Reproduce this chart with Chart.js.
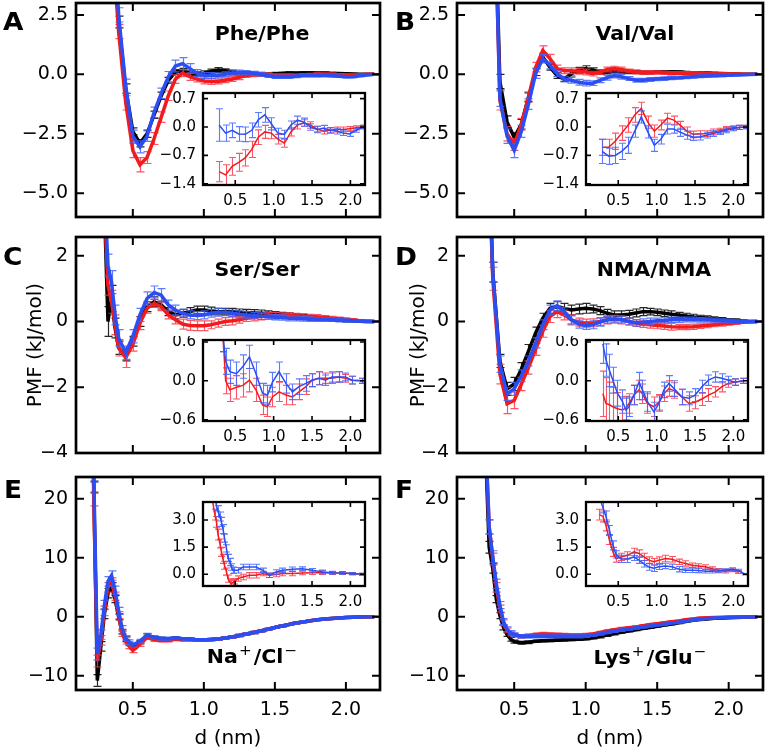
<!DOCTYPE html>
<html>
<head>
<meta charset="utf-8">
<script src="https://cdn.jsdelivr.net/npm/chart.js"></script>
<style>
  body { margin: 0; background: #fff; }
  #fig { position: relative; width: 766px; height: 751px; overflow: hidden; background: #fff; font-family: "DejaVu Sans", sans-serif; }
  #fig canvas { position: absolute; }
  .lab { position: absolute; font-weight: bold; white-space: nowrap; line-height: 1; color: #000; }
  .letter { font-size: 24px; transform: scaleX(1.1); transform-origin: left top; }
  .ttl { font-size: 19px; transform: translateX(-50%) scaleX(1.08); }
  .sp { font-weight: normal; font-size: 14px; position: relative; top: -8px; margin: 0 2px 0 1px; }
</style>
</head>
<body>
<div id="fig"></div>
<script>
// ---- shared axes ----
const mainXRange = [0.1, 2.24];
const insetXRange = [0.08, 2.19];
const xTicks = [0.5, 1.0, 1.5, 2.0];

// ---- A: Phe/Phe ----
const xStd = [0.35,0.40,0.45,0.50,0.55,0.60,0.65,0.70,0.75,0.80,0.85,0.90,0.95,1.00,1.05,1.10,1.15,1.20,1.25,1.30,1.35,1.40,1.45,1.50,1.55,1.60,1.65,1.70,1.75,1.80,1.85,1.90,1.95,2.00,2.05,2.10,2.15,2.20];
const blackA = [6.5,2.2,-0.6,-2.4,-2.9,-2.5,-1.7,-0.9,-0.25,0.1,0.15,0.05,0.0,0.05,0.12,0.18,0.15,0.1,0.05,0.03,0.02,0.0,0.0,0.02,0.03,0.05,0.05,0.06,0.06,0.05,0.05,0.04,0.03,0.02,0.01,0.0,0.0,0.0];
const redA = [6.0,1.8,-1.2,-3.2,-3.8,-3.5,-2.7,-1.8,-0.9,-0.2,0.05,-0.1,-0.2,-0.28,-0.3,-0.3,-0.25,-0.2,-0.12,-0.05,-0.02,0.0,-0.02,-0.05,-0.05,-0.05,-0.05,-0.03,-0.02,0.0,0.0,0.0,-0.02,-0.03,-0.03,-0.02,0.0,0.0];
const blueA = [7.0,2.5,-0.5,-2.6,-3.05,-2.6,-1.6,-0.8,-0.1,0.35,0.45,0.25,0.05,-0.05,-0.05,-0.05,0.0,0.05,0.08,0.08,0.05,0.0,-0.05,-0.1,-0.1,-0.1,-0.08,-0.05,-0.05,-0.05,-0.05,-0.06,-0.08,-0.1,-0.1,-0.06,-0.03,0.0];
const blackErrA = [0.3,0.25,0.2,0.15,0.15,0.15,0.15,0.15,0.12,0.1,0.1,0.1,0.1,0.1,0.1,0.1,0.08,0.08,0.08,0.07,0.07,0.07,0.06,0.06,0.06,0.06,0.05,0.05,0.05,0.05,0.05,0.04,0.04,0.04,0.03,0.03,0.02,0.02];
const redErrA = [0.35,0.3,0.3,0.3,0.3,0.25,0.25,0.22,0.2,0.18,0.15,0.15,0.12,0.12,0.12,0.1,0.1,0.1,0.1,0.08,0.08,0.08,0.08,0.07,0.07,0.07,0.06,0.06,0.06,0.06,0.05,0.05,0.05,0.05,0.04,0.04,0.03,0.03];
const blueErrA = [0.35,0.3,0.3,0.25,0.25,0.22,0.22,0.22,0.22,0.25,0.25,0.2,0.15,0.12,0.12,0.1,0.1,0.1,0.1,0.08,0.08,0.08,0.08,0.07,0.07,0.07,0.06,0.06,0.06,0.06,0.05,0.05,0.05,0.05,0.04,0.04,0.03,0.03];
const yTicksAB = [-5, -2.5, 0, 2.5];

const xInA = [0.29,0.375,0.46,0.545,0.63,0.715,0.80,0.885,0.97,1.055,1.14,1.225,1.31,1.395,1.48,1.565,1.65,1.735,1.82,1.905,1.99,2.075,2.16];
const inBlueA = [0.05,-0.15,-0.08,-0.17,-0.18,-0.08,0.18,0.3,0.08,-0.15,-0.18,0.05,0.17,0.12,0.0,-0.06,-0.03,-0.08,-0.1,-0.15,-0.17,-0.08,0.0];
const inRedA = [-1.1,-1.18,-0.97,-0.87,-0.76,-0.55,-0.25,-0.12,-0.15,-0.3,-0.4,-0.12,0.05,0.1,0.05,-0.05,-0.1,-0.08,-0.06,-0.06,-0.04,-0.02,0.0];
const inBlueErrA = [0.4,0.2,0.18,0.18,0.18,0.18,0.18,0.18,0.15,0.12,0.1,0.1,0.1,0.1,0.08,0.08,0.07,0.07,0.07,0.06,0.06,0.05,0.04];
const inRedErrA = [0.25,0.25,0.22,0.22,0.2,0.2,0.18,0.16,0.14,0.12,0.1,0.1,0.1,0.08,0.08,0.07,0.07,0.06,0.06,0.06,0.05,0.05,0.04];
const inYTicksAB = [-1.4, -0.7, 0, 0.7];

// ---- B: Val/Val ----
const blackB = [10,-0.3,-2.0,-2.65,-2.1,-0.96,0.1,0.73,0.3,-0.05,-0.2,0.03,0.17,0.24,0.17,0.1,0.1,0.14,0.13,0.1,0.1,0.08,0.08,0.1,0.1,0.1,0.1,0.08,0.07,0.06,0.05,0.04,0.03,0.02,0.01,0.0,0.0,0.0];
const redB = [10,-1.1,-2.5,-2.95,-2.1,-0.96,0.3,1.0,0.66,0.24,0.15,0.15,0.13,0.1,0.03,0.1,0.2,0.24,0.2,0.14,0.1,0.08,0.08,0.08,0.07,0.05,0.05,0.05,0.05,0.04,0.03,0.03,0.02,0.01,0.01,0.0,0.0,0.0];
const blueB = [10,-1.0,-2.6,-3.2,-2.4,-1.25,0.03,0.66,0.38,0.03,-0.2,-0.25,-0.33,-0.37,-0.37,-0.25,-0.14,-0.05,-0.1,-0.18,-0.25,-0.25,-0.22,-0.2,-0.18,-0.15,-0.14,-0.12,-0.1,-0.08,-0.07,-0.06,-0.05,-0.04,-0.03,-0.02,-0.01,0.0];
const blackErrB = [0.3,0.3,0.25,0.2,0.2,0.18,0.15,0.15,0.12,0.12,0.1,0.1,0.12,0.12,0.1,0.1,0.08,0.08,0.08,0.07,0.07,0.07,0.06,0.06,0.06,0.06,0.05,0.05,0.05,0.05,0.05,0.04,0.04,0.04,0.03,0.03,0.02,0.02];
const redErrB = [0.35,0.4,0.3,0.25,0.25,0.22,0.2,0.2,0.18,0.15,0.12,0.12,0.12,0.12,0.1,0.1,0.1,0.1,0.1,0.08,0.08,0.08,0.08,0.07,0.07,0.07,0.06,0.06,0.06,0.06,0.05,0.05,0.05,0.05,0.04,0.04,0.03,0.03];
const blueErrB = [0.35,0.35,0.3,0.3,0.25,0.22,0.2,0.18,0.15,0.12,0.12,0.12,0.12,0.12,0.1,0.1,0.1,0.1,0.1,0.08,0.08,0.08,0.08,0.07,0.07,0.07,0.06,0.06,0.06,0.06,0.05,0.05,0.05,0.05,0.04,0.04,0.03,0.03];

const inBlueB = [-0.6,-0.72,-0.7,-0.6,-0.45,-0.1,0.25,-0.12,-0.45,-0.3,-0.05,-0.05,-0.13,-0.2,-0.25,-0.24,-0.2,-0.16,-0.12,-0.08,-0.04,-0.01,0.0];
const inRedB = [-0.5,-0.5,-0.35,-0.15,0.05,0.3,0.46,0.12,-0.1,0.05,0.22,0.17,0.04,-0.1,-0.18,-0.17,-0.16,-0.12,-0.09,-0.05,-0.02,-0.01,0.0];
const inBlueErrB = [0.3,0.2,0.2,0.2,0.2,0.15,0.15,0.15,0.15,0.12,0.12,0.1,0.1,0.1,0.08,0.08,0.07,0.07,0.06,0.06,0.05,0.05,0.04];
const inRedErrB = [0.2,0.2,0.2,0.18,0.18,0.18,0.15,0.15,0.15,0.12,0.12,0.1,0.1,0.1,0.08,0.08,0.07,0.07,0.06,0.06,0.05,0.05,0.04];

// ---- C: Ser/Ser ----
const xC = [0.30,0.325,0.35,0.375,0.40,0.45,0.50,0.55,0.60,0.65,0.70,0.75,0.80,0.85,0.90,0.95,1.00,1.05,1.10,1.15,1.20,1.25,1.30,1.35,1.40,1.45,1.50,1.55,1.60,1.65,1.70,1.75,1.80,1.85,1.90,1.95,2.00,2.05,2.10,2.15,2.20];
const blackC = [3.5,0.0,0.7,-0.2,-0.8,-1.05,-0.6,0.0,0.45,0.6,0.5,0.3,0.2,0.25,0.3,0.35,0.35,0.32,0.3,0.3,0.3,0.28,0.27,0.26,0.25,0.24,0.22,0.2,0.18,0.16,0.14,0.12,0.1,0.09,0.07,0.06,0.04,0.03,0.01,0.0,0.0];
const redC = [3.5,1.1,0.6,-0.1,-0.8,-1.1,-0.7,-0.05,0.4,0.55,0.45,0.2,0.05,-0.08,-0.12,-0.13,-0.13,-0.1,-0.05,0.0,0.02,0.05,0.1,0.12,0.15,0.17,0.18,0.18,0.18,0.17,0.16,0.15,0.14,0.12,0.1,0.08,0.06,0.04,0.02,0.01,0.0];
const blueC = [4.0,1.7,1.2,0.2,-0.5,-0.95,-0.45,0.2,0.7,0.88,0.8,0.5,0.35,0.25,0.2,0.18,0.2,0.25,0.28,0.28,0.25,0.22,0.2,0.18,0.16,0.15,0.13,0.12,0.1,0.09,0.08,0.07,0.06,0.06,0.05,0.04,0.03,0.02,0.01,0.0,0.0];
const blackErrC = [0.5,0.45,0.4,0.3,0.2,0.15,0.15,0.15,0.15,0.15,0.12,0.12,0.12,0.12,0.12,0.12,0.12,0.12,0.1,0.1,0.1,0.1,0.1,0.1,0.1,0.08,0.08,0.08,0.08,0.07,0.07,0.07,0.06,0.06,0.05,0.05,0.05,0.04,0.03,0.02,0.02];
const redErrC = [0.4,0.3,0.35,0.3,0.25,0.3,0.2,0.2,0.15,0.12,0.12,0.12,0.12,0.15,0.15,0.15,0.15,0.12,0.12,0.12,0.12,0.1,0.1,0.1,0.1,0.1,0.1,0.08,0.08,0.08,0.08,0.07,0.07,0.06,0.06,0.05,0.05,0.04,0.03,0.03,0.02];
const blueErrC = [0.4,0.35,0.35,0.3,0.25,0.2,0.2,0.2,0.2,0.2,0.2,0.15,0.15,0.12,0.12,0.12,0.12,0.12,0.12,0.1,0.1,0.1,0.1,0.1,0.1,0.08,0.08,0.08,0.08,0.07,0.07,0.07,0.06,0.06,0.05,0.05,0.05,0.04,0.03,0.03,0.02];
const yTicksCD = [-4, -2, 0, 2];

const xInC = [0.34,0.375,0.43,0.515,0.60,0.685,0.77,0.855,0.92,0.985,1.07,1.16,1.245,1.33,1.42,1.50,1.59,1.675,1.76,1.85,1.935,2.02,2.15];
const inBlueC = [0.7,0.3,0.14,0.11,0.22,0.37,0.11,-0.19,-0.22,-0.02,0.14,-0.04,-0.17,-0.09,-0.04,0.01,0.04,0.01,0.06,0.06,0.06,0.01,0.0];
const inRedC = [0.7,0.0,-0.14,-0.1,-0.07,0.01,-0.14,-0.37,-0.4,-0.25,-0.17,-0.22,-0.25,-0.17,-0.09,0.01,0.04,0.04,0.04,0.06,0.04,0.01,0.0];
const inBlueErrC = [0.25,0.2,0.18,0.18,0.18,0.18,0.18,0.15,0.15,0.15,0.15,0.15,0.12,0.12,0.12,0.1,0.1,0.08,0.08,0.08,0.06,0.06,0.04];
const inRedErrC = [0.25,0.2,0.18,0.18,0.18,0.18,0.18,0.15,0.15,0.15,0.15,0.15,0.12,0.12,0.12,0.1,0.1,0.08,0.08,0.08,0.06,0.06,0.04];
const inYTicksCD = [-0.6, 0, 0.6];

// ---- D: NMA/NMA ----
const xD = [0.30,0.35,0.40,0.45,0.50,0.55,0.60,0.65,0.70,0.75,0.80,0.85,0.90,0.95,1.00,1.05,1.10,1.15,1.20,1.25,1.30,1.35,1.40,1.45,1.50,1.55,1.60,1.65,1.70,1.75,1.80,1.85,1.90,1.95,2.00,2.05,2.10,2.15,2.20];
const blackD = [8,1.5,-1.2,-2.05,-1.9,-1.45,-0.9,-0.35,0.1,0.4,0.45,0.4,0.35,0.38,0.4,0.38,0.33,0.25,0.2,0.2,0.22,0.26,0.3,0.3,0.28,0.25,0.22,0.2,0.17,0.14,0.12,0.1,0.08,0.06,0.04,0.03,0.01,0.0,0.0];
const redD = [8,1.3,-1.6,-2.5,-2.4,-1.9,-1.4,-0.85,-0.3,0.15,0.3,0.2,0.05,-0.02,-0.05,-0.04,0.0,0.05,0.07,0.05,0.0,-0.05,-0.08,-0.1,-0.12,-0.14,-0.16,-0.17,-0.17,-0.16,-0.14,-0.12,-0.1,-0.08,-0.06,-0.04,-0.02,-0.01,0.0];
const blueD = [8,1.5,-1.3,-2.2,-2.05,-1.65,-1.2,-0.65,-0.1,0.35,0.48,0.3,0.05,-0.08,-0.12,-0.1,-0.02,0.05,0.08,0.06,0.0,-0.04,-0.02,0.0,0.02,0.03,0.05,0.05,0.06,0.06,0.05,0.05,0.04,0.03,0.02,0.01,0.01,0.0,0.0];
const blackErrD = [0.3,0.3,0.2,0.2,0.2,0.2,0.2,0.18,0.15,0.15,0.15,0.15,0.15,0.15,0.15,0.12,0.12,0.12,0.12,0.12,0.12,0.12,0.12,0.1,0.1,0.1,0.1,0.08,0.08,0.08,0.07,0.07,0.06,0.06,0.05,0.05,0.04,0.03,0.02];
const redErrD = [0.4,0.35,0.3,0.3,0.25,0.2,0.2,0.18,0.18,0.18,0.18,0.15,0.15,0.12,0.12,0.12,0.12,0.12,0.12,0.12,0.1,0.1,0.1,0.1,0.1,0.1,0.1,0.08,0.08,0.08,0.07,0.07,0.06,0.06,0.05,0.05,0.04,0.03,0.02];
const blueErrD = [0.4,0.3,0.25,0.2,0.2,0.18,0.15,0.15,0.15,0.15,0.15,0.12,0.12,0.12,0.12,0.12,0.12,0.1,0.1,0.1,0.1,0.1,0.1,0.1,0.08,0.08,0.08,0.08,0.07,0.07,0.07,0.06,0.06,0.05,0.05,0.04,0.03,0.03,0.02];

const xInD = [0.30,0.34,0.385,0.43,0.49,0.555,0.60,0.64,0.705,0.77,0.815,0.88,0.965,1.03,1.095,1.16,1.225,1.33,1.42,1.50,1.59,1.675,1.765,1.85,1.935,2.02,2.13];
const inBlueD = [0.57,0.32,0.16,0.01,-0.19,-0.32,-0.45,-0.4,-0.22,-0.02,-0.14,-0.32,-0.48,-0.35,-0.14,-0.04,-0.12,-0.25,-0.27,-0.22,-0.09,0.01,0.06,0.04,0.01,-0.02,0.0];
const inRedD = [-0.2,-0.35,-0.37,-0.4,-0.43,-0.45,-0.42,-0.35,-0.22,-0.14,-0.2,-0.35,-0.4,-0.33,-0.2,-0.12,-0.15,-0.25,-0.35,-0.33,-0.28,-0.22,-0.17,-0.09,-0.04,-0.02,0.0];
const inBlueErrD = [0.3,0.25,0.25,0.2,0.2,0.18,0.18,0.15,0.15,0.15,0.15,0.15,0.15,0.12,0.12,0.12,0.12,0.12,0.1,0.1,0.1,0.08,0.08,0.07,0.06,0.05,0.04];
const inRedErrD = [0.35,0.4,0.35,0.3,0.25,0.2,0.18,0.15,0.15,0.15,0.15,0.15,0.15,0.12,0.12,0.12,0.12,0.12,0.12,0.1,0.1,0.1,0.08,0.08,0.06,0.05,0.04];

// ---- E: Na+/Cl- ----
const xE = [0.20,0.225,0.25,0.275,0.30,0.325,0.35,0.375,0.40,0.425,0.45,0.475,0.50,0.55,0.60,0.65,0.70,0.75,0.80,0.85,0.90,0.95,1.00,1.05,1.10,1.15,1.20,1.25,1.30,1.35,1.40,1.45,1.50,1.55,1.60,1.65,1.70,1.75,1.80,1.85,1.90,1.95,2.00,2.05,2.10,2.15,2.20];
const blackE = [60,22,-10.8,-5.0,0.5,4.0,5.1,3.0,0.0,-2.5,-3.8,-4.6,-5.1,-4.3,-3.2,-3.5,-3.7,-3.8,-3.6,-3.7,-3.8,-3.9,-3.9,-3.85,-3.75,-3.6,-3.4,-3.15,-2.9,-2.65,-2.4,-2.1,-1.8,-1.55,-1.3,-1.05,-0.85,-0.65,-0.5,-0.38,-0.27,-0.18,-0.1,-0.05,-0.02,0.0,0.0];
const redE = [60,20,-7.5,-4.0,1.0,5.0,5.9,3.5,0.3,-2.8,-4.2,-5.0,-5.7,-4.7,-3.5,-3.9,-4.0,-4.0,-3.8,-3.9,-3.9,-3.9,-3.9,-3.85,-3.75,-3.6,-3.4,-3.15,-2.9,-2.65,-2.4,-2.1,-1.8,-1.55,-1.3,-1.05,-0.85,-0.65,-0.5,-0.38,-0.27,-0.18,-0.1,-0.05,-0.02,0.0,0.0];
const blueE = [60,24,-6.3,-3.0,2.0,6.0,7.0,4.5,1.0,-2.0,-3.6,-4.3,-4.8,-4.1,-3.1,-3.5,-3.7,-3.7,-3.6,-3.7,-3.8,-3.9,-3.9,-3.85,-3.75,-3.6,-3.4,-3.15,-2.9,-2.65,-2.4,-2.1,-1.8,-1.55,-1.3,-1.05,-0.85,-0.65,-0.5,-0.38,-0.27,-0.18,-0.1,-0.05,-0.02,0.0,0.0];
const blackErrE = [0,1.0,1.0,0.8,0.8,0.8,0.7,0.6,0.5,0.4,0.4,0.3,0.3,0.3,0.3,0.25,0.25,0.25,0.2,0.2,0.2,0.2,0.2,0.2,0.2,0.2,0.2,0.2,0.2,0.2,0.15,0.15,0.15,0.15,0.15,0.15,0.15,0.1,0.1,0.1,0.1,0.1,0.1,0.1,0.1,0.1,0.1];
const redErrE = [0,1.2,1.0,0.8,0.8,0.8,0.7,0.7,0.6,0.5,0.4,0.4,0.35,0.3,0.3,0.25,0.25,0.25,0.2,0.2,0.2,0.2,0.2,0.2,0.2,0.2,0.2,0.2,0.2,0.2,0.15,0.15,0.15,0.15,0.15,0.15,0.15,0.1,0.1,0.1,0.1,0.1,0.1,0.1,0.1,0.1,0.1];
const blueErrE = [0,1.2,1.0,0.8,0.8,0.8,0.8,0.7,0.6,0.5,0.4,0.4,0.35,0.3,0.3,0.25,0.25,0.25,0.2,0.2,0.2,0.2,0.2,0.2,0.2,0.2,0.2,0.2,0.2,0.2,0.15,0.15,0.15,0.15,0.15,0.15,0.15,0.1,0.1,0.1,0.1,0.1,0.1,0.1,0.1,0.1,0.1];
const yTicksEF = [-10, 0, 10, 20];

const xInE = [0.19,0.235,0.255,0.275,0.30,0.32,0.34,0.36,0.385,0.405,0.43,0.45,0.47,0.49,0.535,0.60,0.685,0.77,0.86,0.945,1.03,1.115,1.245,1.375,1.505,1.635,1.765,1.89,2.02,2.15];
const inRedE = [4.4,3.3,2.9,2.2,1.7,1.24,0.85,0.5,0.15,-0.24,-0.45,-0.52,-0.45,-0.39,-0.24,-0.15,-0.06,-0.06,0.04,-0.06,-0.02,0.04,0.04,0.07,0.09,0.09,0.07,0.07,0.04,0.0];
const inBlueE = [6.0,4.5,3.8,3.5,3.2,2.9,2.5,2.0,1.43,0.9,0.68,0.4,0.22,0.22,0.22,0.4,0.4,0.4,0.22,-0.06,0.13,0.22,0.28,0.31,0.22,0.13,0.09,0.07,0.04,0.0];
const inBlueErrE = [0.3,0.3,0.3,0.3,0.25,0.25,0.25,0.22,0.2,0.2,0.2,0.18,0.18,0.15,0.15,0.15,0.15,0.15,0.12,0.12,0.12,0.12,0.12,0.1,0.1,0.1,0.08,0.08,0.06,0.05];
const inRedErrE = [0.3,0.3,0.3,0.3,0.25,0.25,0.25,0.22,0.2,0.2,0.2,0.18,0.18,0.15,0.15,0.15,0.15,0.15,0.12,0.12,0.12,0.12,0.12,0.1,0.1,0.1,0.08,0.08,0.06,0.05];
const inYTicksEF = [0, 1.5, 3.0];

// ---- F: Lys+/Glu- ----
const xF = [0.30,0.325,0.35,0.375,0.40,0.425,0.45,0.475,0.50,0.55,0.60,0.65,0.70,0.75,0.80,0.85,0.90,0.95,1.00,1.05,1.10,1.15,1.20,1.25,1.30,1.35,1.40,1.45,1.50,1.55,1.60,1.65,1.70,1.75,1.80,1.85,1.90,1.95,2.00,2.05,2.10,2.15,2.20];
const blackF = [28,11.8,8.2,3.0,0.2,-1.8,-3.0,-3.8,-4.2,-4.4,-4.3,-4.15,-4.05,-4.0,-3.95,-3.9,-3.85,-3.8,-3.7,-3.55,-3.35,-3.1,-2.85,-2.6,-2.4,-2.2,-2.0,-1.8,-1.6,-1.4,-1.2,-1.0,-0.8,-0.6,-0.45,-0.35,-0.25,-0.2,-0.15,-0.1,-0.05,-0.02,0.0];
const redF = [30,15.3,9.8,5.0,1.4,-1.0,-2.3,-2.9,-3.1,-3.3,-3.2,-3.0,-2.9,-2.95,-3.0,-3.05,-3.1,-3.1,-3.05,-2.9,-2.65,-2.4,-2.2,-2.0,-1.85,-1.7,-1.5,-1.3,-1.15,-1.0,-0.85,-0.7,-0.5,-0.35,-0.2,-0.15,-0.1,-0.05,-0.03,-0.02,-0.01,0.0,0.0];
const blueF = [30,15.2,10.2,5.6,2.0,-0.8,-2.1,-2.7,-3.0,-3.3,-3.3,-3.3,-3.3,-3.3,-3.3,-3.3,-3.3,-3.3,-3.25,-3.1,-2.9,-2.65,-2.45,-2.25,-2.05,-1.9,-1.7,-1.55,-1.4,-1.25,-1.05,-0.9,-0.7,-0.55,-0.4,-0.3,-0.2,-0.15,-0.1,-0.07,-0.04,-0.02,0.0];
const blackErrF = [0,1.0,0.8,0.6,0.5,0.4,0.3,0.3,0.25,0.25,0.25,0.2,0.2,0.2,0.2,0.2,0.2,0.2,0.2,0.2,0.2,0.2,0.2,0.15,0.15,0.15,0.15,0.15,0.15,0.15,0.15,0.15,0.1,0.1,0.1,0.1,0.1,0.1,0.1,0.1,0.1,0.1,0.1];
const redErrF = [0,1.2,1.0,0.8,0.6,0.5,0.4,0.35,0.3,0.3,0.3,0.25,0.25,0.25,0.25,0.25,0.25,0.25,0.25,0.2,0.2,0.2,0.2,0.2,0.2,0.2,0.2,0.15,0.15,0.15,0.15,0.15,0.15,0.15,0.1,0.1,0.1,0.1,0.1,0.1,0.1,0.1,0.1];
const blueErrF = [0,1.2,1.0,0.8,0.6,0.5,0.4,0.35,0.3,0.3,0.3,0.25,0.25,0.25,0.25,0.25,0.25,0.25,0.25,0.2,0.2,0.2,0.2,0.2,0.2,0.2,0.2,0.15,0.15,0.15,0.15,0.15,0.15,0.15,0.1,0.1,0.1,0.1,0.1,0.1,0.1,0.1,0.1];

const xInF = [0.255,0.30,0.34,0.385,0.43,0.47,0.535,0.62,0.705,0.77,0.835,0.90,0.965,1.03,1.115,1.20,1.29,1.375,1.46,1.545,1.635,1.72,1.805,1.89,1.98,2.06,2.15];
const inRedF = [3.3,3.2,2.7,1.9,1.24,0.87,0.96,1.05,1.24,1.15,0.96,0.78,0.69,0.78,0.87,0.83,0.69,0.6,0.5,0.46,0.41,0.31,0.22,0.17,0.22,0.13,null];
const inBlueF = [4.3,3.7,3.2,2.45,1.6,1.1,0.85,0.85,0.96,0.78,0.58,0.4,0.33,0.41,0.46,0.41,0.28,0.22,0.22,0.21,0.17,0.17,0.18,0.22,0.28,0.22,0.0];
const inRedErrF = [0.3,0.3,0.3,0.25,0.25,0.2,0.2,0.2,0.2,0.2,0.2,0.18,0.18,0.18,0.18,0.15,0.15,0.15,0.12,0.12,0.12,0.1,0.1,0.1,0.08,0.08,0];
const inBlueErrF = [0.3,0.3,0.3,0.25,0.25,0.2,0.2,0.2,0.2,0.18,0.18,0.18,0.18,0.15,0.15,0.15,0.15,0.12,0.12,0.12,0.1,0.1,0.1,0.08,0.08,0.06,0.04];

// ---- colours ----
const BLACK = '#000000', RED = '#f21b1b', BLUE = '#2b4df2';
const BLACK_ERR = 'rgba(0,0,0,0.85)', RED_ERR = 'rgba(250,55,75,0.85)', BLUE_ERR = 'rgba(65,100,255,0.85)';

// vertical error bars with caps, drawn through the chart scales
const errorBars = {
  id: 'errorBars',
  beforeDatasetDraw(chart, args) {
    const ds = chart.data.datasets[args.index];
    if (!ds.err) return;
    const { ctx, chartArea: a, scales: { x, y } } = chart;
    ctx.save();
    ctx.beginPath();
    ctx.rect(a.left, a.top, a.width, a.height);
    ctx.clip();
    ctx.strokeStyle = ds.errColor;
    ctx.lineWidth = ds.errWidth;
    ctx.beginPath();
    ds.data.forEach((p, i) => {
      const e = ds.err[i];
      if (p.y == null || !e) return;
      const px = Math.round(x.getPixelForValue(p.x)) + 0.5;
      const y1 = y.getPixelForValue(p.y - e), y2 = y.getPixelForValue(p.y + e);
      ctx.moveTo(px, y1); ctx.lineTo(px, y2);
      ctx.moveTo(px - ds.cap, y1); ctx.lineTo(px + ds.cap, y1);
      ctx.moveTo(px - ds.cap, y2); ctx.lineTo(px + ds.cap, y2);
    });
    ctx.stroke();
    ctx.restore();
  }
};

// box frame with inward tick marks on all four sides
const frame = {
  id: 'frame',
  beforeDraw(chart, args, opts) {
    if (!opts.fill) return;
    const { ctx, chartArea: a } = chart;
    ctx.save();
    ctx.fillStyle = '#fff';
    ctx.fillRect(a.left, a.top, a.width, a.height);
    ctx.restore();
  },
  afterDraw(chart, args, opts) {
    const { ctx, chartArea: a, scales: { x, y } } = chart;
    const L = opts.len;
    ctx.save();
    ctx.strokeStyle = '#000';
    ctx.lineWidth = opts.tickWidth;
    ctx.beginPath();
    x.ticks.forEach(t => {
      const px = x.getPixelForValue(t.value);
      ctx.moveTo(px, a.top); ctx.lineTo(px, a.top + L);
      ctx.moveTo(px, a.bottom); ctx.lineTo(px, a.bottom - L);
    });
    y.ticks.forEach(t => {
      const py = y.getPixelForValue(t.value);
      ctx.moveTo(a.left, py); ctx.lineTo(a.left + L, py);
      ctx.moveTo(a.right, py); ctx.lineTo(a.right - L, py);
    });
    ctx.stroke();
    ctx.lineWidth = opts.width;
    ctx.strokeRect(a.left, a.top, a.width, a.height);
    ctx.restore();
  }
};

function pts(xs, ys) { return xs.map((x, i) => ({ x: x, y: ys[i] })); }

function line(xs, ys, err, color, errColor, width, cap, errWidth) {
  return { data: pts(xs, ys), err: err, borderColor: color, errColor: errColor, errWidth: errWidth,
           borderWidth: width, cap: cap, pointRadius: 0, fill: false, tension: 0 };
}

const fmt = d => v => (v < 0 ? '\u2212' : '') + Math.abs(v).toFixed(d);

function makePlot(o) {
  const pad = 4;
  const [l, t, r, b] = o.box;
  const cv = document.createElement('canvas');
  cv.width = r - l + o.yW + pad;
  cv.height = b - t + pad + o.xH;
  cv.style.left = (l - o.yW) + 'px';
  cv.style.top = (t - pad) + 'px';
  document.getElementById('fig').appendChild(cv);
  const font = { family: 'DejaVu Sans', size: o.inset ? 15 : 19 };
  const zeroPad = s => { s.paddingLeft = 0; s.paddingRight = 0; s.paddingTop = 0; s.paddingBottom = 0; };
  return new Chart(cv, {
    type: 'line',
    data: { datasets: o.sets },
    plugins: [errorBars, frame],
    options: {
      responsive: false, animation: false, events: [],
      layout: { padding: { top: pad, right: pad, left: 0, bottom: 0 } },
      plugins: {
        legend: { display: false }, tooltip: { enabled: false },
        frame: { fill: !!o.inset, width: o.inset ? 2.3 : 2.7, tickWidth: o.inset ? 1.6 : 2, len: o.inset ? 5 : 8 }
      },
      scales: {
        x: {
          type: 'linear', min: o.xr[0], max: o.xr[1],
          grid: { display: false, drawTicks: false }, border: { display: false },
          afterBuildTicks: s => { s.ticks = xTicks.map(v => ({ value: v })); },
          afterFit: s => { s.height = o.xH; zeroPad(s); },
          ticks: { display: !!o.xLabels, padding: o.inset ? 7 : 9, font: font, color: '#000',
                   maxRotation: 0, autoSkip: false, callback: fmt(1) },
          title: { display: !!o.xTitle, text: o.xTitle || '', color: '#000',
                   font: { family: 'DejaVu Sans', size: 20 }, padding: { top: 0, bottom: 0 } }
        },
        y: {
          type: 'linear', min: o.yr[0], max: o.yr[1],
          grid: { display: false, drawTicks: false }, border: { display: false },
          afterBuildTicks: s => { s.ticks = o.yt.map(v => ({ value: v })); },
          afterFit: s => { s.width = o.yW; zeroPad(s); },
          ticks: { padding: o.inset ? 7 : 8, font: font, color: '#000', autoSkip: false, callback: fmt(o.dec) },
          title: { display: !!o.yTitle, text: o.yTitle || '', color: '#000',
                   font: { family: 'DejaVu Sans', size: 20 }, padding: { top: o.yTitleOff || 0, bottom: 0 } }
        }
      }
    }
  });
}

function mainSets(xs, k, r, bl, ke, re, be) {
  return [line(xs, bl, be, BLUE, BLUE_ERR, 3.5, 4, 1.2),
          line(xs, r, re, RED, RED_ERR, 3.5, 4, 1.2),
          line(xs, k, ke, BLACK, BLACK_ERR, 3.5, 4, 1.2)];
}
function insetSets(xs, r, bl, re, be) {
  return [line(xs, bl, be, BLUE, BLUE_ERR, 1.5, 3.5, 1.1),
          line(xs, r, re, RED, RED_ERR, 1.5, 3.5, 1.1)];
}

// main panels
makePlot({ box: [76, 3, 380, 217], yW: 76, xH: 4, xr: mainXRange, yr: [-6, 3], yt: yTicksAB, dec: 1,
  sets: mainSets(xStd, blackA, redA, blueA, blackErrA, redErrA, blueErrA) });
makePlot({ box: [457, 3, 763, 217], yW: 76, xH: 4, xr: mainXRange, yr: [-6, 3], yt: yTicksAB, dec: 1,
  sets: mainSets(xStd, blackB, redB, blueB, blackErrB, redErrB, blueErrB) });
makePlot({ box: [76, 237, 380, 453], yW: 76, xH: 4, xr: mainXRange, yr: [-4, 2.57], yt: yTicksCD, dec: 0,
  yTitle: 'PMF (kJ/mol)', yTitleOff: 24,
  sets: mainSets(xC, blackC, redC, blueC, blackErrC, redErrC, blueErrC) });
makePlot({ box: [457, 237, 763, 453], yW: 76, xH: 4, xr: mainXRange, yr: [-4, 2.57], yt: yTicksCD, dec: 0,
  yTitle: 'PMF (kJ/mol)', yTitleOff: 26,
  sets: mainSets(xD, blackD, redD, blueD, blackErrD, redErrD, blueErrD) });
makePlot({ box: [76, 477, 380, 690], yW: 76, xH: 61, xr: mainXRange, yr: [-12.4, 23.7], yt: yTicksEF, dec: 0,
  xLabels: true, xTitle: 'd (nm)',
  sets: mainSets(xE, blackE, redE, blueE, blackErrE, redErrE, blueErrE) });
makePlot({ box: [457, 477, 763, 690], yW: 76, xH: 61, xr: mainXRange, yr: [-12.4, 23.7], yt: yTicksEF, dec: 0,
  xLabels: true, xTitle: 'd (nm)',
  sets: mainSets(xF, blackF, redF, blueF, blackErrF, redErrF, blueErrF) });

// insets
makePlot({ inset: true, box: [203, 93, 365, 185], yW: 46, xH: 26, xr: insetXRange, yr: [-1.43, 0.84], yt: inYTicksAB, dec: 1,
  xLabels: true, sets: insetSets(xInA, inRedA, inBlueA, inRedErrA, inBlueErrA) });
makePlot({ inset: true, box: [586, 93, 748, 185], yW: 46, xH: 26, xr: insetXRange, yr: [-1.43, 0.84], yt: inYTicksAB, dec: 1,
  xLabels: true, sets: insetSets(xInA, inRedB, inBlueB, inRedErrB, inBlueErrB) });
makePlot({ inset: true, box: [203, 340, 365, 421], yW: 46, xH: 26, xr: insetXRange, yr: [-0.62, 0.63], yt: inYTicksCD, dec: 1,
  xLabels: true, sets: insetSets(xInC, inRedC, inBlueC, inRedErrC, inBlueErrC) });
makePlot({ inset: true, box: [586, 340, 748, 421], yW: 46, xH: 26, xr: insetXRange, yr: [-0.62, 0.63], yt: inYTicksCD, dec: 1,
  xLabels: true, sets: insetSets(xInD, inRedD, inBlueD, inRedErrD, inBlueErrD) });
makePlot({ inset: true, box: [203, 502, 365, 586], yW: 46, xH: 26, xr: insetXRange, yr: [-0.65, 4.0], yt: inYTicksEF, dec: 1,
  xLabels: true, sets: insetSets(xInE, inRedE, inBlueE, inRedErrE, inBlueErrE) });
makePlot({ inset: true, box: [586, 502, 748, 586], yW: 46, xH: 26, xr: insetXRange, yr: [-0.65, 4.0], yt: inYTicksEF, dec: 1,
  xLabels: true, sets: insetSets(xInF, inRedF, inBlueF, inRedErrF, inBlueErrF) });

// panel letters and titles
const labels = [
  ['letter', 3, 10, 'A'], ['letter', 395, 10, 'B'], ['letter', 3, 245, 'C'],
  ['letter', 395, 245, 'D'], ['letter', 4, 478, 'E'], ['letter', 395, 478, 'F'],
  ['ttl', 262, 24, 'Phe/Phe'], ['ttl', 635, 24, 'Val/Val'],
  ['ttl', 257, 260, 'Ser/Ser'], ['ttl', 654, 260, 'NMA/NMA'],
  ['ttl', 253, 647, 'Na<span class="sp">+</span>/Cl<span class="sp">\u2212</span>'],
  ['ttl', 651, 648, 'Lys<span class="sp">+</span>/Glu<span class="sp">\u2212</span>']
];
labels.forEach(([cls, x, y, html]) => {
  const d = document.createElement('div');
  d.className = 'lab ' + cls;
  d.style.left = x + 'px';
  d.style.top = y + 'px';
  d.innerHTML = html;
  document.getElementById('fig').appendChild(d);
});
</script>
</body>
</html>
